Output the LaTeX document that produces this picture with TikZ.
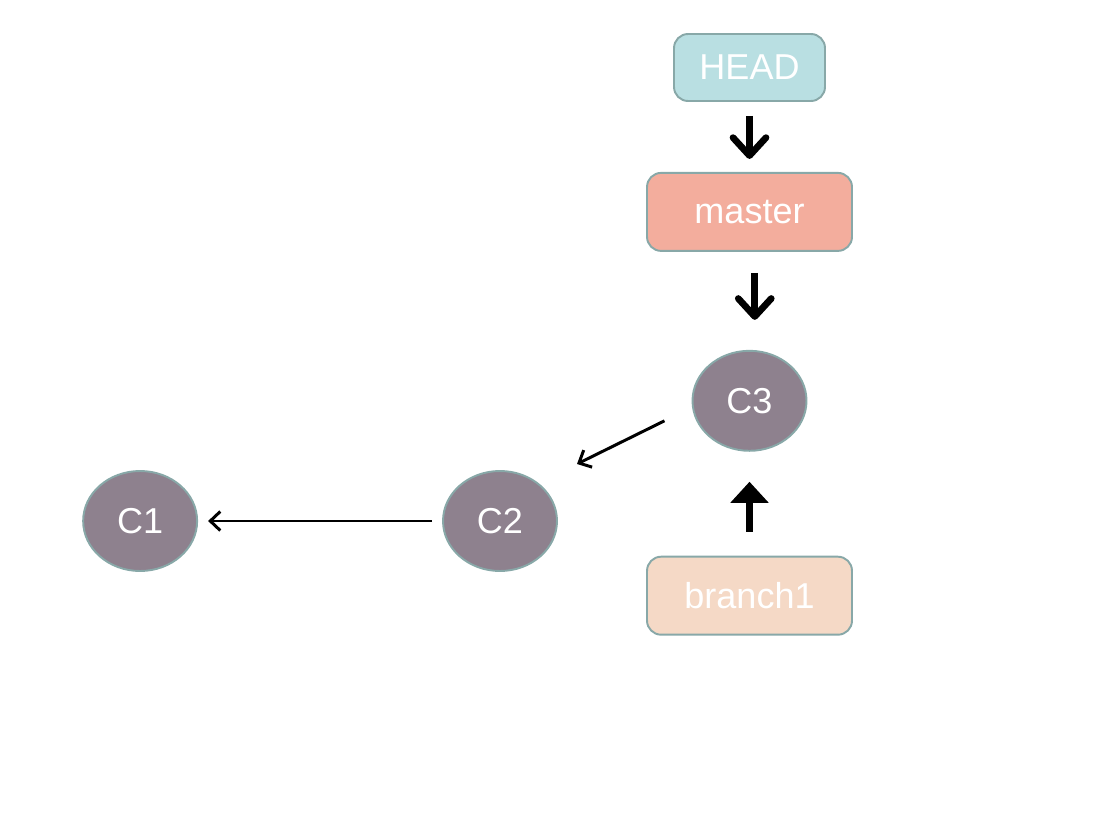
\documentclass[tikz,border=0pt]{standalone}
\usepackage{fontspec}
\setmainfont{Liberation Sans}
\usepackage{xcolor}
\usepackage{tikz}
\usetikzlibrary{shapes, arrows.meta, positioning, calc}
\definecolor{headblue}{HTML}{B9DFE2}
\definecolor{masterred}{HTML}{F3AD9D}
\definecolor{branchpeach}{HTML}{F5D9C6}
\definecolor{commitgray}{HTML}{8E818E}
\definecolor{edgegray}{HTML}{88A8A8}

\begin{document}
\begin{tikzpicture}[
    x=0.02cm, y=-0.02cm,
    node distance=1.0em,
    ref/.style={draw=edgegray, rounded corners=8pt, align=center, text=white, font=\fontsize{20.5pt}{24pt}\selectfont, line width=1.1pt, inner sep=0pt},
    headref/.style={ref, fill=headblue, minimum width=3.02cm, minimum height=1.34cm},
    branchref/.style={ref, minimum width=4.1cm, minimum height=1.56cm},
    commit/.style={ellipse, draw=edgegray, fill=commitgray, text=white, font=\fontsize{20.5pt}{24pt}\selectfont, line width=1.1pt, minimum width=2.28cm, minimum height=2.0cm, inner sep=0pt},
    boldarrow/.style={-{Straight Barb[length=3.6mm, width=6.6mm, line cap=round, line join=round]}, line width=3.8pt},
    fatarrow/.style={-{Triangle[length=4.2mm, width=7.4mm]}, line width=4.4pt},
    thinarrow/.style={-{Straight Barb[length=2mm, width=3.8mm]}, line width=1.7pt},
]
\useasboundingbox (0,0) rectangle (1114,827);
% refs and commits
\node[headref] (head) at (749.5,67.5) {HEAD};
\node[branchref, fill=masterred, below=1.40cm of head] (master) {master};
\node[commit, below=1.96cm of master] (c3) {C3};
\node[branchref, fill=branchpeach, below=2.08cm of c3] (branch1) {branch1};
\node[commit] (c2) at (500,521) {C2};
\node[commit, left=4.88cm of c2] (c1) {C1};
% pointers
\draw[boldarrow, shorten <=0.28cm, shorten >=0.26cm] (head) -- (master);
\draw[boldarrow, shorten <=0.42cm, shorten >=0.6cm] ([xshift=3] master.south) -- ([xshift=3] c3.north);
\draw[fatarrow, shorten <=0.48cm, shorten >=0.6cm] (branch1) -- (c3);
% parents
\draw[thinarrow] ($(c3)+(-85,20)$) -- ($(c2)+(77,-57)$);
\draw[thinarrow, shorten <=0.2cm, shorten >=0.2cm] (c2) -- (c1);
\end{tikzpicture}
\end{document}
